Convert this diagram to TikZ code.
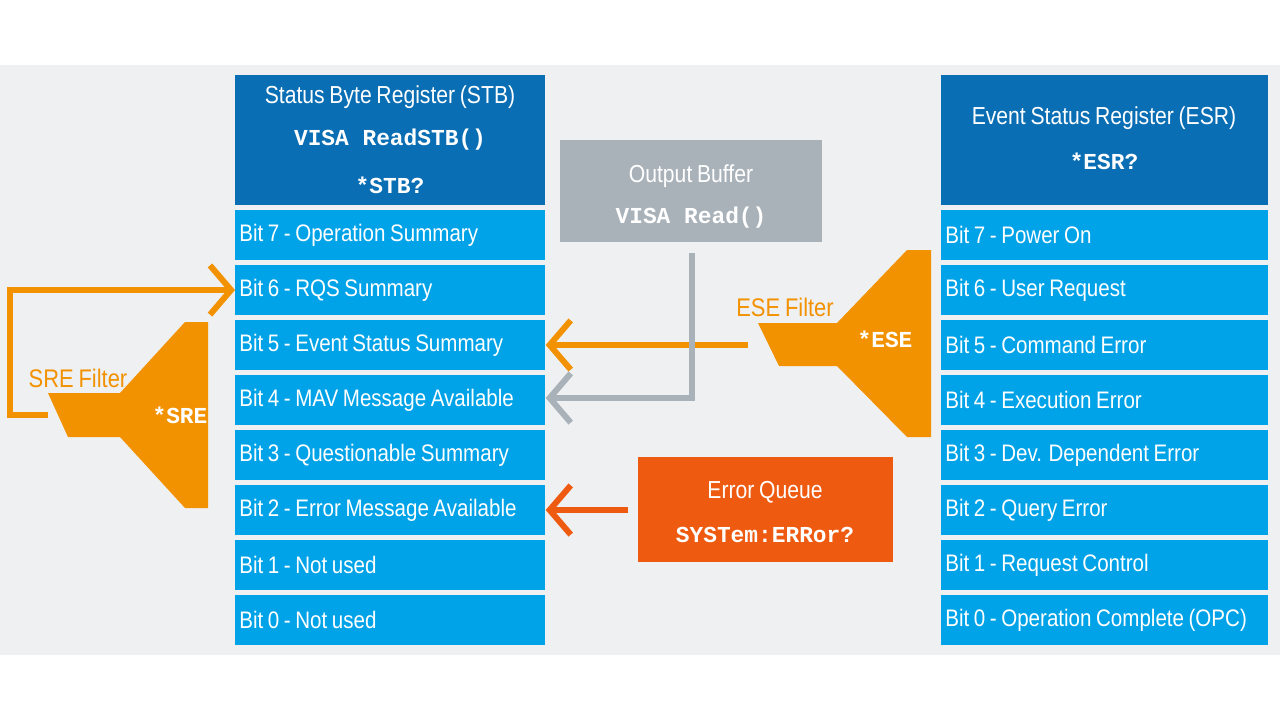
\documentclass[tikz,border=0pt]{standalone}
\usepackage{fontspec}
\setmainfont{Liberation Sans}[FakeStretch=0.86,WordSpace=0.8]
\newfontfamily\mymono{Liberation Mono}
\usetikzlibrary{arrows.meta}
\definecolor{dblue}{HTML}{0A6EB4}
\definecolor{lblue}{HTML}{00A3E8}
\definecolor{bgpanel}{HTML}{EFF0F2}
\definecolor{gbox}{HTML}{A9B1B9}
\definecolor{orng}{HTML}{F39200}
\definecolor{eorng}{HTML}{EE5A0F}
\newcommand\lbox[2]{\makebox[#1][l]{#2}}
\tikzset{
  x=0.02cm,y=-0.02cm,
  bit/.style={fill=lblue,text=white,minimum width=310*0.02cm,minimum height=50*0.02cm,inner xsep=4*0.02cm,inner ysep=0pt,font=\fontsize{13.6}{15}\selectfont,anchor=north west},
  bitr/.style={bit,minimum width=327*0.02cm},
  hdr/.style={fill=dblue,text=white,align=center,inner sep=0pt,anchor=north west},
  htxt/.style={text=white,font=\fontsize{14}{16}\selectfont},
  mono/.style={font=\mymono\bfseries\fontsize{13}{15}\selectfont},
  conn/.style={line width=3.4pt,-{Straight Barb[length=12pt,width=28pt,line width=3.4pt]}},
  filt/.style={fill=orng,draw=none},
}
\begin{document}
\begin{tikzpicture}
\useasboundingbox (0,0) rectangle (1280,721);
\fill[white] (0,0) rectangle (1280,721);
\fill[bgpanel] (0,65) rectangle (1280,655);
% STB header
\node[hdr,minimum width=310*0.02cm,minimum height=130*0.02cm] (stb) at (235,75) {};
\node[htxt] (stbt) at (390,97) {Status Byte Register (STB)};
\node[text=white,mono] (stbv) at (390,140) {VISA ReadSTB()};
\node[text=white,mono] (stbq) at (390,185) {*STB?};
% ESR header
\node[hdr,minimum width=327*0.02cm,minimum height=130*0.02cm] (esr) at (941,75) {};
\node[htxt] (esrt) at (1104,118) {Event Status Register (ESR)};
\node[text=white,mono] (esrq) at (1104,161) {*ESR?};
% bits
\foreach \i/\t [count=\k from 0] in {7/Operation Summary,6/RQS Summary,5/Event Status Summary,4/MAV Message Available,3/Questionable Summary,2/Error Message Available,1/Not used,0/Not used}{
  \node[bit] (s\i) at (235,210+55*\k) {\lbox{6.04cm}{Bit \i{} - \t}};
}
\foreach \i/\t [count=\k from 0] in {7/Power On,6/User Request,5/Command Error,4/Execution Error,3/Dev. Dependent Error,2/Query Error,1/Request Control,0/Operation Complete (OPC)}{
  \node[bitr] (e\i) at (941,210+55*\k) {\lbox{6.38cm}{Bit \i{} - \t}};
}
% output buffer
\node[fill=gbox,anchor=north west,minimum width=262*0.02cm,minimum height=102*0.02cm,inner sep=0pt] (ob) at (560,140) {};
\node[htxt] (obt) at (691,176) {Output Buffer};
\node[text=white,mono] (obv) at (691,218) {VISA Read()};
% error queue
\node[fill=eorng,anchor=north west,minimum width=255*0.02cm,minimum height=105*0.02cm,inner sep=0pt] (eq) at (638,457) {};
\node[htxt] (eqt) at (765,492) {Error Queue};
\node[text=white,mono] (eqv) at (765,535) {SYSTem:ERRor?};
% filters
\fill[filt] (208,322) -- (185,322) -- (120,393) -- (48,393) -- (68,437) -- (120,437) -- (185,508) -- (208,508) -- cycle;
\fill[filt] (931,250) -- (907,250) -- (837,323) -- (758,323) -- (779,366) -- (837,366) -- (907,437) -- (931,437) -- cycle;
\node[text=orng,font=\fontsize{14.5}{16}\selectfont] (sref) at (78,378) {SRE Filter};
\node[text=white,mono] (sre) at (180,415) {*SRE};
\node[text=orng,font=\fontsize{14.5}{16}\selectfont] (esef) at (785,307) {ESE Filter};
\node[text=white,mono] (ese) at (885,339) {*ESE};
\coordinate (sl) at (48,415);
\coordinate (eseo) at (748,345);
\coordinate (obo) at (692,253);
\coordinate (eqo) at (628,510);
% connectors
\draw[conn,draw=orng] (sl) -- (10,415) -- (10,290) -- (s6.west|-0,290);
\draw[conn,draw=orng] (eseo) -- (s5.east|-0,345);
\draw[conn,draw=gbox] (obo) -- (692,398) -- (s4.east|-0,398);
\draw[conn,draw=eorng] (eqo) -- (s2.east|-0,510);
\end{tikzpicture}
\end{document}
